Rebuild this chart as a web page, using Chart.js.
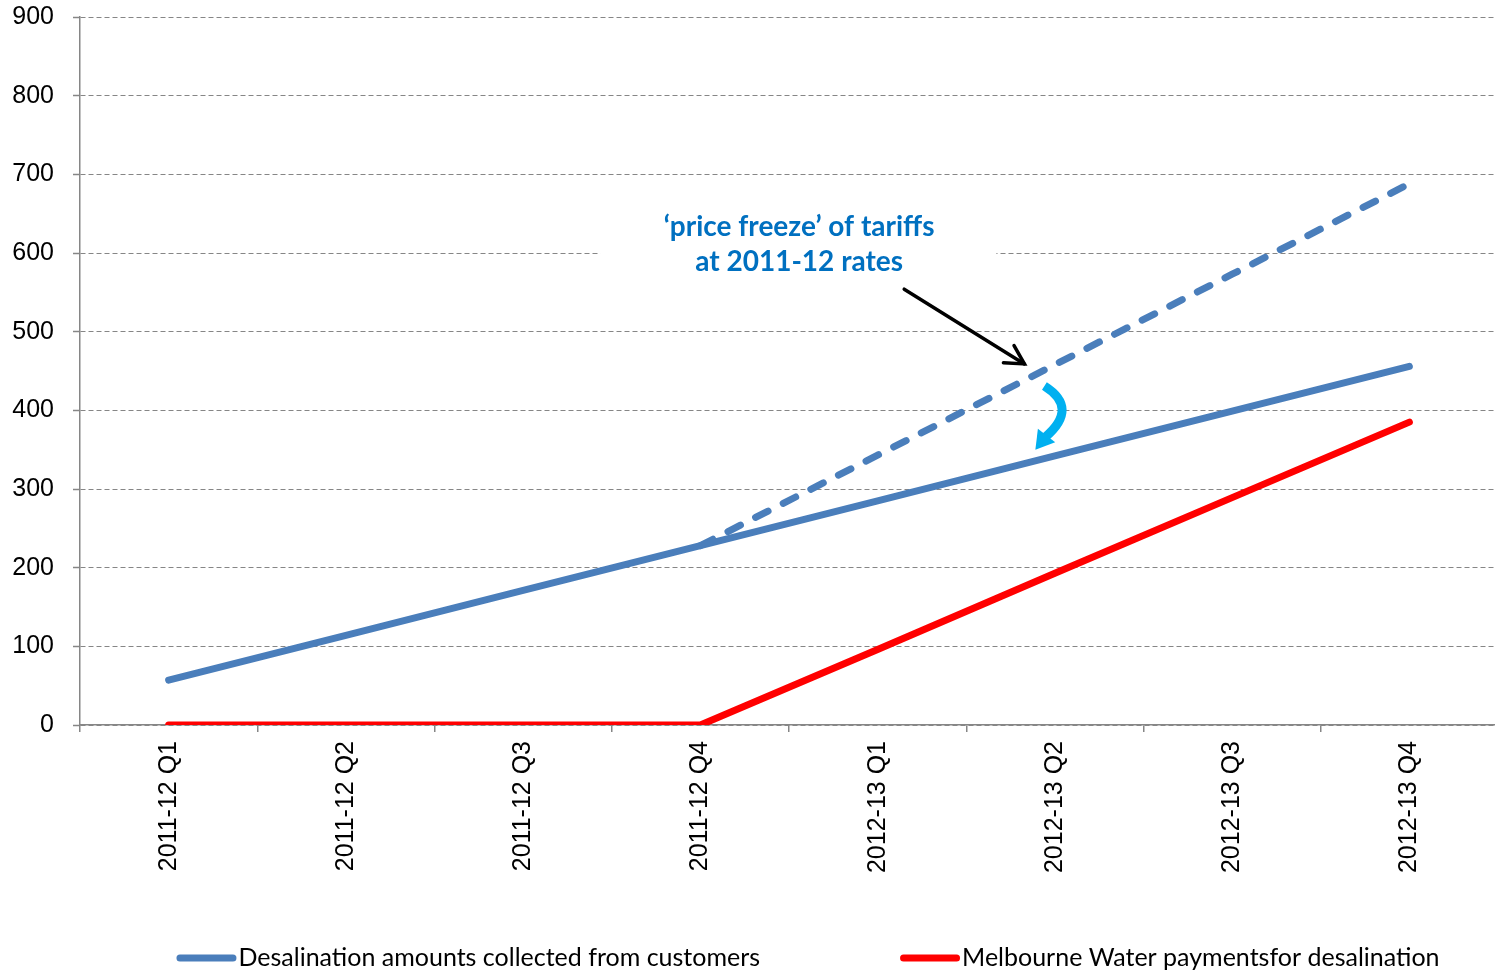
<!DOCTYPE html>
<html><head><meta charset="utf-8">
<script src="https://cdn.jsdelivr.net/npm/chart.js@4.4.1/dist/chart.umd.min.js"></script>
<style>html,body{margin:0;padding:0;overflow:hidden;background:#fff}#wrap{width:1498px;height:975px}</style>
</head><body><div id="wrap"><canvas id="c" width="1498" height="975"></canvas></div>
<script>
const categories = ['2011-12 Q1','2011-12 Q2','2011-12 Q3','2011-12 Q4','2012-13 Q1','2012-13 Q2','2012-13 Q3','2012-13 Q4'];
const collected = [57,114,171,228,285,342,399,456];
const frozenTariff = [null,null,null,228,343,458,573,688];
const payments = [0,0,0,0,96,193,289,385];
const yTickValues = [0,100,200,300,400,500,600,700,800,900];
const seriesLabels = ['Desalination amounts collected from customers','Melbourne Water paymentsfor desalination'];
const annotationLines = ['\u2018price freeze\u2019 of tariffs','at 2011-12 rates'];

const BLUE = '#4A7EBB', RED = '#FF0000', GRID = '#868686';

// annotation anchors in data space (category index, value)
const noteBox = {i0:2.434, i1:4.670, v0:661, v1:553};
const noteText = {i:3.557, v:[633,589]};
const blackArrow = {from:[4.150,554], to:[4.828,459]};
const cyanArrow = {start:[4.941,431], ctrl:[5.138,403], end:[4.946,366], tip:[4.890,350]};

const annotationPlugin = {
  id:'notes',
  afterDatasetsDraw(chart){
    const {ctx, scales:{x,y}} = chart;
    const P = (i,v)=>[x.getPixelForValue(i), y.getPixelForValue(v)];
    ctx.save();
    const [bx0,by0] = P(noteBox.i0, noteBox.v0), [bx1,by1] = P(noteBox.i1, noteBox.v1);
    ctx.fillStyle='#fff'; ctx.fillRect(bx0,by0,bx1-bx0,by1-by0);
    ctx.fillStyle='#0070C0'; ctx.font='bold 28px Lato'; ctx.textAlign='center'; ctx.textBaseline='middle';
    annotationLines.forEach((t,k)=>{ const [tx,ty]=P(noteText.i, noteText.v[k]); ctx.fillText(t,tx,ty); });
    const [ax0,ay0]=P(...blackArrow.from), [ax1,ay1]=P(...blackArrow.to);
    ctx.strokeStyle='#000'; ctx.lineWidth=3.5; ctx.lineCap='round';
    ctx.beginPath(); ctx.moveTo(ax0,ay0); ctx.lineTo(ax1,ay1); ctx.stroke();
    const ang=Math.atan2(ay1-ay0,ax1-ax0), hl=21, ha=0.5;
    ctx.beginPath();
    ctx.moveTo(ax1-hl*Math.cos(ang-ha), ay1-hl*Math.sin(ang-ha));
    ctx.lineTo(ax1,ay1);
    ctx.lineTo(ax1-hl*Math.cos(ang+ha), ay1-hl*Math.sin(ang+ha));
    ctx.stroke();
    const s=P(...cyanArrow.start), c=P(...cyanArrow.ctrl), e=P(...cyanArrow.end), t=P(...cyanArrow.tip);
    ctx.strokeStyle='#00B0F0'; ctx.fillStyle='#00B0F0'; ctx.lineWidth=9; ctx.lineCap='butt';
    ctx.beginPath(); ctx.moveTo(s[0],s[1]); ctx.quadraticCurveTo(c[0],c[1],e[0],e[1]); ctx.stroke();
    const a2=Math.atan2(t[1]-e[1], t[0]-e[0]), hw=11;
    ctx.beginPath();
    ctx.moveTo(t[0],t[1]);
    ctx.lineTo(e[0]+hw*Math.cos(a2+Math.PI/2)-2*Math.cos(a2), e[1]+hw*Math.sin(a2+Math.PI/2)-2*Math.sin(a2));
    ctx.lineTo(e[0]+hw*Math.cos(a2-Math.PI/2)-2*Math.cos(a2), e[1]+hw*Math.sin(a2-Math.PI/2)-2*Math.sin(a2));
    ctx.closePath(); ctx.fill();
    ctx.restore();
  }
};

const legendPlugin = {
  id:'bottomLegend',
  afterDraw(chart){
    const ctx=chart.ctx;
    ctx.save();
    ctx.font='25px Lato'; ctx.textBaseline='middle'; ctx.fillStyle='#000';
    const sample=60, gapText=2, gapItems=140, yy=958;
    const colors=[BLUE,RED];
    const widths=seriesLabels.map(l=>sample+gapText+ctx.measureText(l).width);
    const total=widths[0]+widths[1]+gapItems;
    let xx=808-total/2;
    seriesLabels.forEach((l,k)=>{
      ctx.strokeStyle=colors[k]; ctx.lineWidth=7; ctx.lineCap='round';
      ctx.beginPath(); ctx.moveTo(xx+3.5,yy); ctx.lineTo(xx+sample-3.5,yy); ctx.stroke();
      ctx.fillText(l, xx+sample+gapText, yy);
      xx+=widths[k]+gapItems;
    });
    ctx.restore();
  }
};

new Chart(document.getElementById('c'), {
  type:'line',
  data:{
    labels:categories,
    datasets:[
      {label:seriesLabels[0], data:collected, borderColor:BLUE, backgroundColor:BLUE, borderWidth:7, pointRadius:0, borderCapStyle:'round', borderJoinStyle:'round', tension:0},
      {label:seriesLabels[1], data:payments, borderColor:RED, backgroundColor:RED, borderWidth:7, pointRadius:0, borderCapStyle:'round', borderJoinStyle:'round', tension:0},
      {label:'price freeze', data:frozenTariff, borderColor:BLUE, backgroundColor:BLUE, borderWidth:7, pointRadius:0, borderCapStyle:'round', borderDash:[14,17], tension:0}
    ]
  },
  options:{
    responsive:false, animation:false, devicePixelRatio:1,
    layout:{padding:{top:17,right:0,bottom:0,left:0}},
    plugins:{legend:{display:false}, tooltip:{enabled:false}},
    scales:{
      x:{
        offset:true,
        grid:{offset:true, drawOnChartArea:false, drawTicks:true, tickLength:7, color:GRID, tickColor:GRID, lineWidth:1.5},
        border:{display:true, color:GRID, width:1.5},
        ticks:{autoSkip:false, minRotation:90, maxRotation:90, padding:9, color:'#000', font:{family:'Liberation Sans', size:25}},
        afterFit(s){ s.height=250; s.paddingTop=0; s.paddingBottom=0; s.paddingLeft=0; s.paddingRight=0; }
      },
      y:{
        min:0, max:900,
        afterBuildTicks(s){ s.ticks = yTickValues.map(v=>({value:v})); },
        grid:{color:GRID, lineWidth:1, tickLength:7, tickColor:GRID, tickBorderDash:[], tickWidth:1.5},
        border:{display:true, color:GRID, width:1.5, dash:[5,3]},
        ticks:{padding:19, color:'#000', font:{family:'Liberation Sans', size:25}},
        afterFit(s){ s.width=80; s.paddingTop=0; s.paddingBottom=0; s.paddingLeft=0; s.paddingRight=0; }
      }
    }
  },
  plugins:[annotationPlugin, legendPlugin]
});
</script></body></html>
